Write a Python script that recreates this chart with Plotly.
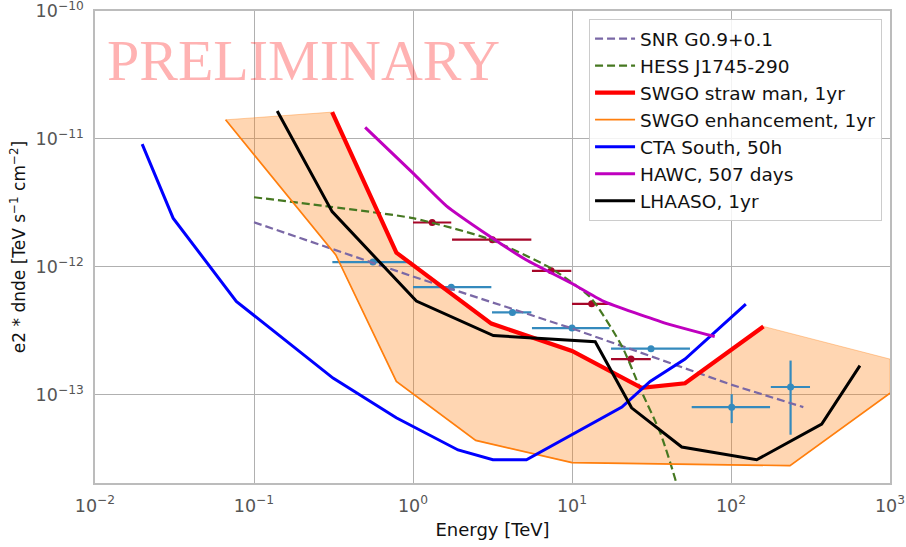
import plotly.graph_objects as go

# ---------------- data ----------------
snr_e = [0.1, 1.0, 10.0, 100.0, 285.0]
snr_f = [2.23e-12, 8.4e-13, 3.3e-13, 1.2e-13, 8.0e-14]

hess_e = [0.1, 0.3, 1.0, 3.0, 7.3, 13.0, 20.6, 27.0, 36.0, 45.5, 55.0]
hess_f = [3.5e-12, 2.95e-12, 2.4e-12, 1.65e-12, 9.8e-13, 5.8e-13, 2.4e-13, 1.1e-13, 5.0e-14, 2.0e-14, 6.3e-15]

straw_e = [0.31, 0.786, 3.11, 10.0, 27.4, 51.4, 160.0]
straw_f = [1.62e-11, 1.29e-12, 3.6e-13, 2.2e-13, 1.13e-13, 1.23e-13, 3.42e-13]

enh_e = [0.0663, 0.327, 0.786, 2.48, 10.0, 235.0, 1000.0]
enh_f = [1.41e-11, 1.24e-12, 1.27e-13, 4.4e-14, 2.95e-14, 2.79e-14, 1.03e-13]

band_upper_e = [0.0663, 0.31, 0.786, 3.11, 10.0, 27.4, 51.4, 160.0, 1000.0]
band_upper_f = [1.41e-11, 1.62e-11, 1.29e-12, 3.6e-13, 2.2e-13, 1.13e-13, 1.23e-13, 3.42e-13, 1.9e-13]

cta_e = [0.0198, 0.031, 0.0774, 0.314, 0.785, 1.92, 3.18, 5.17, 20.6, 31.0, 51.4, 124.0]
cta_f = [9.1e-12, 2.4e-12, 5.37e-13, 1.35e-13, 6.6e-14, 3.7e-14, 3.1e-14, 3.1e-14, 8.0e-14, 1.27e-13, 1.9e-13, 5.1e-13]

hawc_e = [0.5, 1.0, 1.62, 3.0, 5.17, 10.0, 15.7, 39.4, 79.0]
hawc_f = [1.23e-11, 5.4e-12, 3.0e-12, 1.75e-12, 1.13e-12, 7.4e-13, 5.4e-13, 3.6e-13, 2.85e-13]

lhaaso_e = [0.14, 0.31, 1.05, 3.2, 14.0, 23.7, 49.0, 145.0, 372.0, 647.0]
lhaaso_f = [1.65e-11, 2.7e-12, 5.4e-13, 2.9e-13, 2.6e-13, 7.9e-14, 3.9e-14, 3.1e-14, 5.9e-14, 1.69e-13]

# flux points (dark red)
pts_r_e = [1.32, 3.16, 7.4, 13.3, 23.5]
pts_r_lo = [1.0, 1.76, 5.6, 10.0, 17.6]
pts_r_hi = [1.74, 5.55, 9.9, 17.3, 31.3]
pts_r_f = [2.22e-12, 1.63e-12, 9.3e-13, 5.14e-13, 1.9e-13]

# flux points (blue)
pts_b_e = [0.56, 1.74, 4.22, 10.0, 31.4, 101.0, 237.0]
pts_b_lo = [0.311, 1.0, 3.14, 5.6, 17.6, 56.6, 178.0]
pts_b_hi = [0.976, 3.11, 5.55, 17.2, 55.2, 176.0, 314.0]
pts_b_f = [1.09e-12, 6.93e-13, 4.4e-13, 3.32e-13, 2.29e-13, 8.0e-14, 1.15e-13]
pts_b_flo = [1.09e-12, 6.93e-13, 4.4e-13, 3.32e-13, 2.29e-13, 6.0e-14, 4.87e-14]
pts_b_fhi = [1.09e-12, 6.93e-13, 4.4e-13, 3.32e-13, 2.29e-13, 1.01e-13, 1.85e-13]

x_tickvals = [0.01, 0.1, 1, 10, 100, 1000]
x_ticktext = ["10<sup>−2</sup>", "10<sup>−1</sup>", "10<sup>0</sup>", "10<sup>1</sup>", "10<sup>2</sup>", "10<sup>3</sup>"]
y_tickvals = [1e-13, 1e-12, 1e-11, 1e-10]
y_ticktext = ["10<sup>−13</sup>", "10<sup>−12</sup>", "10<sup>−11</sup>", "10<sup>−10</sup>"]

# ---------------- figure ----------------
fig = go.Figure()

# band
fig.add_trace(go.Scatter(
    x=band_upper_e + enh_e[::-1], y=band_upper_f + enh_f[::-1],
    fill="toself", fillcolor="rgba(255,127,14,0.32)",
    line=dict(color="rgba(255,127,14,0.35)", width=1),
    mode="lines", showlegend=False, hoverinfo="skip"))

def errpts(e, lo, hi, f, flo, fhi, color):
    fig.add_trace(go.Scatter(
        x=e, y=f, mode="markers",
        marker=dict(color=color, size=7),
        error_x=dict(type="data", symmetric=False,
                     array=[h - c for h, c in zip(hi, e)],
                     arrayminus=[c - l for c, l in zip(e, lo)],
                     color=color, thickness=2.2, width=0),
        error_y=dict(type="data", symmetric=False,
                     array=[h - c for h, c in zip(fhi, f)],
                     arrayminus=[c - l for c, l in zip(f, flo)],
                     color=color, thickness=2.2, width=0),
        showlegend=False, hoverinfo="skip"))

errpts(pts_b_e, pts_b_lo, pts_b_hi, pts_b_f, pts_b_flo, pts_b_fhi, "#348ABD")
errpts(pts_r_e, pts_r_lo, pts_r_hi, pts_r_f, pts_r_f, pts_r_f, "#A60628")

fig.add_trace(go.Scatter(x=snr_e, y=snr_f, mode="lines", name="SNR G0.9+0.1",
                         line=dict(color="#7A68A6", width=2.2, dash="8px,4px"), legendgroup="a"))
fig.add_trace(go.Scatter(x=hess_e, y=hess_f, mode="lines", name="HESS J1745-290",
                         line=dict(color="#467821", width=2.2, dash="8px,4px", shape="spline", smoothing=0.6),
                         legendgroup="b"))
fig.add_trace(go.Scatter(x=straw_e, y=straw_f, mode="lines", name="SWGO straw man, 1yr",
                         line=dict(color="#FF0000", width=4.2), legendgroup="c"))
fig.add_trace(go.Scatter(x=enh_e, y=enh_f, mode="lines", name="SWGO enhancement, 1yr",
                         line=dict(color="#FF7F0E", width=1.7), legendgroup="d"))
fig.add_trace(go.Scatter(x=cta_e, y=cta_f, mode="lines", name="CTA South, 50h",
                         line=dict(color="#0000FF", width=3), legendgroup="e"))
fig.add_trace(go.Scatter(x=hawc_e, y=hawc_f, mode="lines", name="HAWC, 507 days",
                         line=dict(color="#BF00BF", width=3, shape="spline", smoothing=0.5), legendgroup="f"))
fig.add_trace(go.Scatter(x=lhaaso_e, y=lhaaso_f, mode="lines", name="LHAASO, 1yr",
                         line=dict(color="#000000", width=3), legendgroup="g"))

fig.add_annotation(x=0.0, y=0.968, xref="paper", yref="paper", xanchor="left", yanchor="top",
                   xshift=10, text="PRELIMINARY", showarrow=False,
                   font=dict(family="Liberation Serif", size=58, color="rgba(255,0,0,0.3)"))

axis_common = dict(type="log", showgrid=True, gridcolor="#b0b0b0", gridwidth=1,
                   showline=True, linecolor="#bcbcbc", linewidth=1.5, mirror=True,
                   ticks="", zeroline=False, automargin=False, ticklabeloverflow="allow",
                   tickfont=dict(family="DejaVu Sans", size=17.5, color="#555555"))

fig.update_xaxes(range=[-2, 3], tickvals=x_tickvals, ticktext=x_ticktext,
                 ticklabelstandoff=6,
                 title=dict(text="Energy [TeV]", standoff=9,
                            font=dict(family="DejaVu Sans", size=18, color="#111111")),
                 **axis_common)
fig.update_yaxes(range=[-13.69, -10], tickvals=y_tickvals, ticktext=y_ticktext,
                 ticklabelstandoff=6,
                 title=dict(text="e2 * dnde [TeV s<sup>−1</sup> cm<sup>−2</sup>]", standoff=6,
                            font=dict(family="DejaVu Sans", size=17, color="#111111")),
                 **axis_common)

fig.update_layout(
    width=906, height=547,
    margin=dict(l=95, r=16, t=11, b=64),
    plot_bgcolor="white", paper_bgcolor="white",
    font=dict(family="DejaVu Sans"),
    legend=dict(x=0.99, y=0.983, xanchor="right", yanchor="top",
                bgcolor="rgba(255,255,255,0.85)", bordercolor="#cccccc", borderwidth=1,
                font=dict(family="DejaVu Sans", size=18.5, color="#111111"),
                tracegroupgap=0, itemwidth=40),
)

fig.write_html("out.html")
